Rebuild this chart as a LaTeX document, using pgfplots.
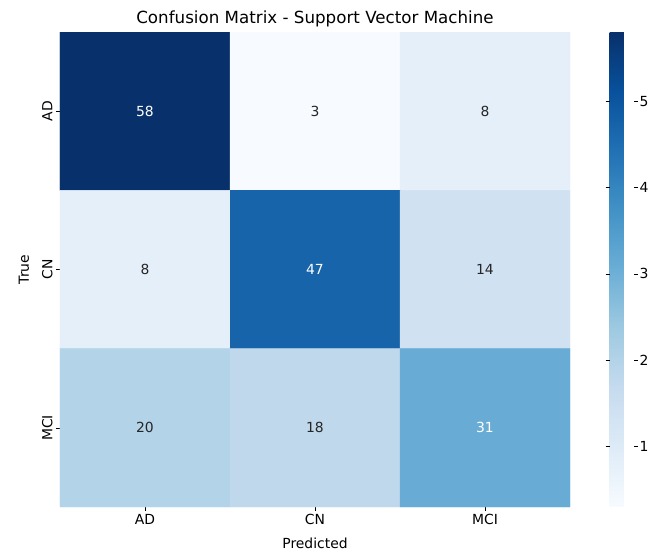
\documentclass[border=0pt]{standalone}
\usepackage{pgfplots}
\pgfplotsset{compat=1.18}
\usepackage{fontspec}
\setmainfont{DejaVu Sans}
\definecolor{txtdark}{HTML}{262626}
\pgfplotsset{
  colormap={blues}{rgb255=(247,251,255) rgb255=(222,235,247) rgb255=(198,219,239) rgb255=(158,202,225) rgb255=(107,174,214) rgb255=(66,146,198) rgb255=(33,113,181) rgb255=(8,81,156) rgb255=(8,48,107)}
}
\begin{document}
\begin{tikzpicture}[x=1pt,y=1pt]
\begin{axis}[
  at={(60pt,45pt)}, anchor=south west,
  scale only axis, width=510pt, height=475pt,
  xmin=-0.5, xmax=2.5, ymin=-0.5, ymax=2.5,
  y dir=reverse,
  axis line style={draw=none},
  xtick={0,1,2}, ytick={0,1,2},
  xticklabels={AD,CN,MCI}, yticklabels={AD,CN,MCI},
  yticklabel style={rotate=90, anchor=south},
  tick align=outside, tick pos=left,
  major tick length=4pt,
  tick style={black, line width=0.6pt},
  ticklabel style={font=\fontsize{13.9}{15}\selectfont},
  xlabel={Predicted}, ylabel={True},
  xlabel style={font=\fontsize{13.9}{15}\selectfont, yshift=-6pt},
  ylabel style={font=\fontsize{13.9}{15}\selectfont, yshift=6pt},
  title={Confusion Matrix - Support Vector Machine},
  title style={font=\fontsize{16.7}{18}\selectfont, yshift=-5pt},
  colormap name=blues,
  point meta min=3, point meta max=58,
  colorbar,
  colorbar style={
    at={(parent axis.north east)}, anchor=north west, xshift=31pt,
    width=24pt, height=475pt,
    axis line style={draw=none},
    ytick={10,20,30,40,50},
    major tick length=4pt,
    tick style={black, line width=0.6pt},
    tick align=outside,
    /pgf/number format/assume math mode=true,
    yticklabel style={font=\fontsize{13.9}{15}\selectfont, xshift=-1.5pt},
  },
  enlargelimits=false,
]
\addplot[matrix plot*, mesh/cols=3, point meta=explicit, draw=none] table[meta=v] {
x y v
0 0 58
1 0 3
2 0 8
0 1 8
1 1 47
2 1 14
0 2 20
1 2 18
2 2 31
};
\addplot[only marks, mark=none, point meta=explicit symbolic,
  nodes near coords, nodes near coords align=center,
  every node near coord/.style={font=\fontsize{13.9}{15}\selectfont, text=white}]
  table[meta=v] {
x y v
0 0 58
1 1 47
2 2 31
};
\addplot[only marks, mark=none, point meta=explicit symbolic,
  nodes near coords, nodes near coords align=center,
  every node near coord/.style={font=\fontsize{13.9}{15}\selectfont, text=txtdark}]
  table[meta=v] {
x y v
1 0 3
2 0 8
0 1 8
2 1 14
0 2 20
1 2 18
};
\end{axis}
\pgfresetboundingbox
\path (0,0) rectangle (649,552);
\end{tikzpicture}
\end{document}
